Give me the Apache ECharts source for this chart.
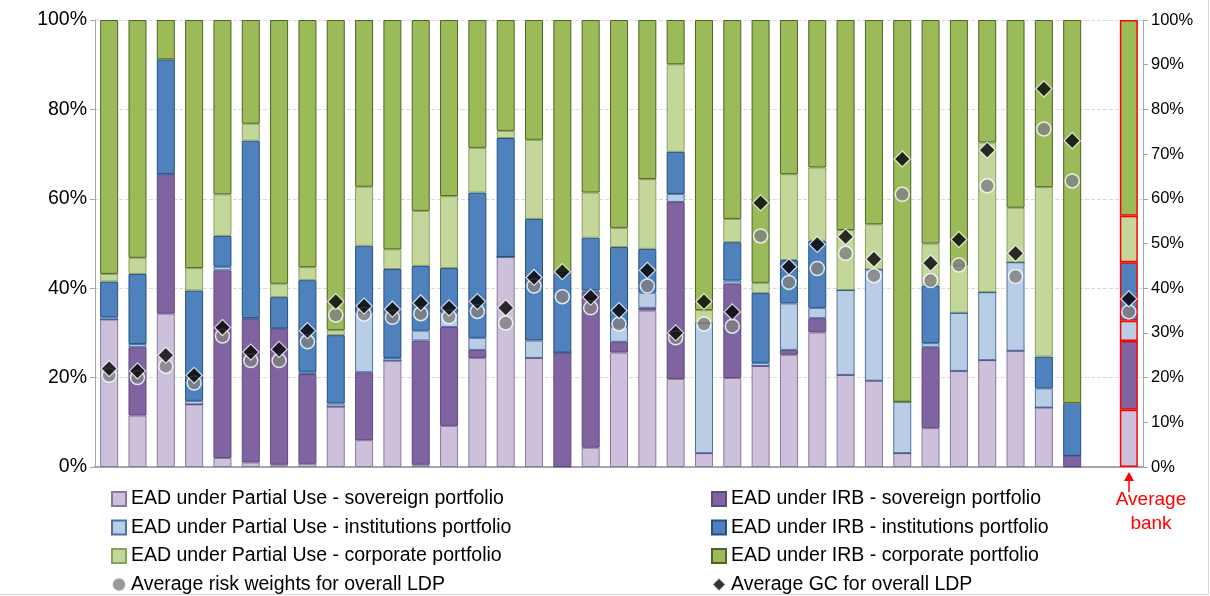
<!DOCTYPE html>
<html><head><meta charset="utf-8">
<script src="https://cdn.jsdelivr.net/npm/echarts@6/dist/echarts.min.js"></script>
<style>html,body{margin:0;padding:0;background:#fff}#c{width:1208px;height:594px;border-right:1px solid #d9d9d9;border-bottom:1px solid #d9d9d9}</style>
</head><body><div id="c"></div>
<script>
// cumulative tops (%), last bar = average bank; index 35 is an empty gap
const categories = Array.from({length:37}, (_, i) => i === 36 ? 'Average bank' : String(i + 1));
const topSovPU  = [33,11.5,34.3,14,2,1,0.5,0.7,13.5,6,23.8,0.5,9.2,24.4,47,24.4,0,4.3,25.6,35,19.7,3.1,19.9,22.6,25.1,30.1,20.6,19.3,3.1,8.7,21.5,23.9,26,13.3,0,null,12.8];
const topSovIRB = [33,26.8,65.5,14,44,33.2,31,20.8,13.5,21.2,23.8,28.3,31.3,26.2,47,24.4,25.6,39.2,28,35.6,59.3,3.1,41,22.6,26.2,33.3,20.6,19.3,3.1,26.8,21.5,23.9,26,13.3,2.5,null,28.2];
const topInstPU = [33.5,27.5,65.5,14.8,44.8,33.3,31,21.3,14.2,34.4,24.4,30.5,34.5,28.9,47,28.3,25.6,39.5,31.3,39,61.1,32.2,41.7,23.3,36.6,35.6,39.6,44.2,14.6,27.7,34.5,39.1,45.8,17.6,2.5,null,32.7];
const topInstIRB= [41.5,43.2,91.2,39.5,51.7,73,38,41.8,29.5,49.5,44.3,45,44.5,61.4,73.6,55.5,43.4,51.3,49.2,48.8,70.5,32.2,50.3,38.9,46.3,50.6,39.6,44.2,14.6,40.6,34.5,39.1,45.8,24.7,14.3,null,45.8];
const topCorpPU = [43.2,46.8,91.2,44.5,61,76.8,41,44.7,30.6,62.7,48.7,57.3,60.6,71.4,75.2,73.2,43.4,61.4,53.5,64.4,90.1,35.1,55.5,41.2,65.5,67,53,54.3,14.6,50,45,72.6,58,62.6,14.3,null,56.2];
const riskWeights = [20.5,20,22.5,18.8,29.3,23.8,23.8,28,34,34.2,33.5,34.3,33.6,34.8,32.2,40.5,38.1,35.6,32,40.5,28.9,32,31.5,51.7,41.3,44.4,47.8,42.8,61,41.7,45.2,62.9,42.6,75.6,64,null,34.7];
const avgGC = [22,21.5,25,20.5,31.2,25.7,26.3,30.5,37,36,35.3,36.7,35.6,37,35.6,42.4,43.7,38,35,44,30,37,34.7,59.1,44.8,49.8,51.5,46.5,68.9,45.6,50.9,70.9,47.8,84.6,73,null,37.6];
const names = ['EAD under Partial Use - sovereign portfolio','EAD under IRB - sovereign portfolio','EAD under Partial Use - institutions portfolio','EAD under IRB - institutions portfolio','EAD under Partial Use - corporate portfolio','EAD under IRB - corporate portfolio','Average risk weights for overall LDP','Average GC for overall LDP'];

const tops = [topSovPU, topSovIRB, topInstPU, topInstIRB, topCorpPU, topSovPU.map(v => v === null ? null : 100)];
const colors = ['#CCC0DA','#8064A2','#B9CDE5','#4F81BD','#C4D79B','#9BBB59'];
const borders = ['#8a78a3','#5f497a','#4a72a8','#254f86','#8aa060','#4f6228'];
const seg = k => tops[k].map((v, i) => {
  if (v === null) return null;
  const prev = k === 0 ? 0 : tops[k-1][i];
  const val = +(v - prev).toFixed(2);
  return i === 36 ? {value: val, itemStyle: {borderColor: '#ff0000', borderWidth: 1.5}} : val;
});
const series = names.slice(0,6).map((n,k) => ({
  name: n, type: 'bar', stack: 'a', barWidth: 18, data: seg(k),
  itemStyle: {color: colors[k], borderColor: borders[k], borderWidth: 1}
}));
series.push({name: names[6], type: 'scatter', symbol: 'circle', symbolSize: 14, yAxisIndex: 1, data: riskWeights,
  itemStyle: {color: '#808080', borderColor: '#fff', borderWidth: 1.5}, z: 5});
series.push({name: names[7], type: 'scatter', symbol: 'diamond', symbolSize: 16, yAxisIndex: 1, data: avgGC,
  itemStyle: {color: '#000', borderColor: '#fff', borderWidth: 1.2}, z: 6});

const font = 'Liberation Sans, Arial, sans-serif';
const ch = echarts.init(document.getElementById('c'));
const legendBase = {orient: 'vertical', itemWidth: 14, itemHeight: 14, itemGap: 8.5, height: 140,
  textStyle: {fontSize: 19.5, fontFamily: font, color: '#000'}, icon: 'rect'};
ch.setOption({
  animation: false,
  grid: {left: 95, right: 65, top: 20, height: 447},
  xAxis: {type: 'category', data: categories, axisLabel: {show: false}, axisTick: {show: false},
    axisLine: {lineStyle: {color: '#a6a6a6', width: 2}}},
  yAxis: [
    {type: 'value', min: 0, max: 100, interval: 20, axisLabel: {formatter: '{value}%', fontSize: 19.5, fontFamily: font, color: '#000'},
      axisLine: {show: true, lineStyle: {color: '#a6a6a6'}}, axisTick: {show: true},
      splitLine: {lineStyle: {type: 'dashed', color: '#d9d9d9'}}},
    {type: 'value', min: 0, max: 100, interval: 10, axisLabel: {formatter: '{value}%', fontSize: 16.5, fontFamily: font, color: '#000'},
      axisLine: {show: true, lineStyle: {color: '#a6a6a6'}}, axisTick: {show: true}, splitLine: {show: false}}
  ],
  legend: [
    Object.assign({}, legendBase, {left: 106, top: 484, data: [names[0], names[2], names[4], {name: names[6], icon: 'circle'}]}),
    Object.assign({}, legendBase, {left: 706, top: 484, data: [names[1], names[3], names[5], {name: names[7], icon: 'diamond'}]})
  ],
  graphic: [
    {type: 'text', x: 1151, y: 488, style: {text: 'Average\nbank', fill: '#ff0000', font: '19px ' + font, align: 'center', lineHeight: 24}},
    {type: 'polygon', shape: {points: [[1129,472],[1124,481],[1134,481]]}, style: {fill: '#ff0000'}},
    {type: 'line', shape: {x1: 1129, y1: 479, x2: 1129, y2: 492}, style: {stroke: '#ff0000', lineWidth: 1.5}}
  ],
  series
});
</script></body></html>
